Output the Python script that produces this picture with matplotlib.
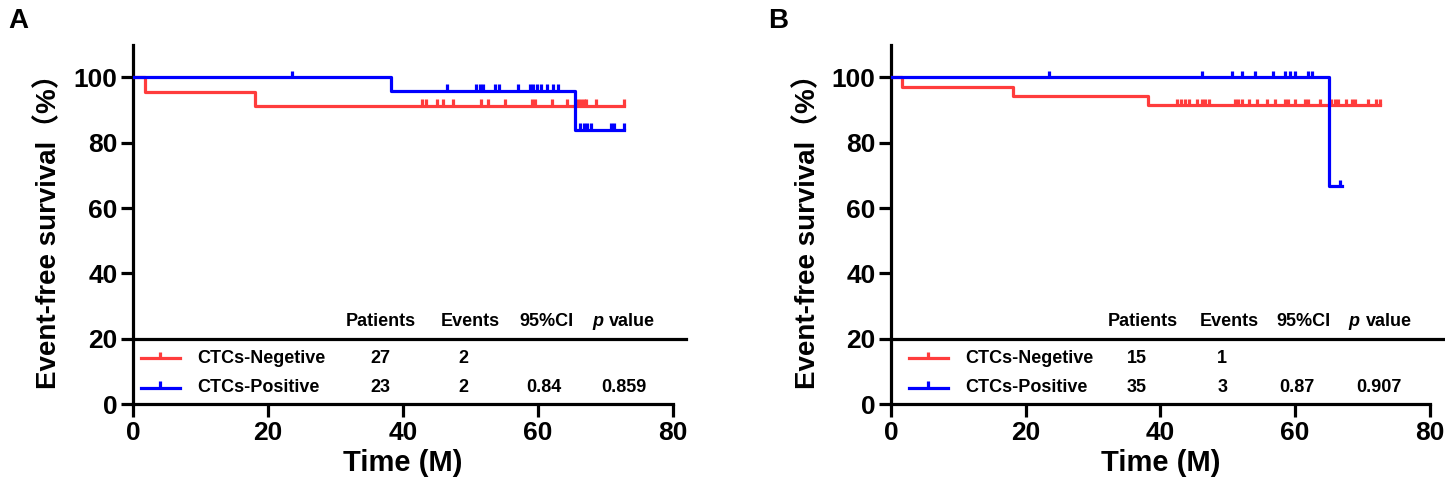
import numpy as np
import matplotlib.pyplot as plt

plt.rcParams['font.family'] = ['Liberation Sans', 'Noto Sans CJK SC']
plt.rcParams['font.weight'] = 'bold'
plt.rcParams['axes.labelweight'] = 'bold'

RED = '#FF3C3C'
BLUE = '#0000FF'

# ---- panel A ----
a_neg_times = [0, 1.8, 18.1, 72.8]
a_neg_surv = [100, 95.5, 91.3, 91.3]
a_neg_cens = [42.8, 43.4, 45.0, 46.0, 47.4, 51.5, 52.6, 55.1, 59.1, 59.5,
              62.1, 64.3, 66.0, 66.4, 66.8, 67.1, 68.6, 72.8]
a_pos_times = [0, 38.2, 65.5, 72.8]
a_pos_surv = [100, 96.0, 84.0, 84.0]
a_pos_cens = [23.6, 46.5, 50.8, 51.4, 51.9, 53.6, 54.3, 57.1, 58.8, 59.3,
              59.9, 60.5, 61.4, 62.3, 62.9, 66.3, 66.8, 67.3, 67.8, 70.8,
              71.3, 72.8]
a_table = [['27', '2', '', ''], ['23', '2', '0.84', '0.859']]

# ---- panel B ----
b_neg_times = [0, 1.7, 18.1, 38.1, 72.6]
b_neg_surv = [100, 97.1, 94.3, 91.5, 91.5]
b_neg_cens = [42.5, 43.0, 43.7, 44.2, 45.4, 46.2, 46.7, 47.2, 51.1, 51.6,
              52.1, 53.1, 54.3, 55.8, 57.0, 58.5, 59.0, 60.0, 61.5, 62.0,
              63.7, 65.4, 65.9, 66.4, 67.6, 68.4, 68.9, 70.8, 72.1, 72.6]
b_pos_times = [0, 65.1, 67.0]
b_pos_surv = [100, 66.7, 66.7]
b_pos_cens = [23.5, 46.2, 50.6, 52.2, 54.0, 56.7, 58.5, 59.2, 60.0, 61.9,
              62.5, 66.7]
b_table = [['15', '1', '', ''], ['35', '3', '0.87', '0.907']]

group_names = ['CTCs-Negetive', 'CTCs-Positive']
x_ticks = [0, 20, 40, 60, 80]
y_ticks = [0, 20, 40, 60, 80, 100]

LW = 2.3
TFS = 13  # table text


def level_at(times, surv, t):
    idx = np.searchsorted(times, t, side='right') - 1
    return surv[idx]


def draw_curve(ax, times, surv, cens, color):
    ax.step(times, surv, where='post', color=color, lw=LW, zorder=3)
    for c in cens:
        lv = level_at(times, surv, c)
        ax.plot([c, c], [lv, lv + 2.0], color=color, lw=LW, zorder=3,
                solid_capstyle='butt')


def draw_panel(ax, neg, pos, table, label_x, cols):
    draw_curve(ax, *neg, RED)
    draw_curve(ax, *pos, BLUE)

    # table
    ax.plot([0, 82], [20, 20], color='black', lw=LW, clip_on=False)
    hy = 25.3
    ax.text(cols[0], hy, 'Patients', ha='center', va='center', fontsize=TFS)
    ax.text(cols[1], hy, 'Events', ha='center', va='center', fontsize=TFS)
    ax.text(cols[2], hy, '95%CI', ha='center', va='center', fontsize=TFS)
    ax.text(68.0, hy, 'p', ha='left', va='center', fontsize=TFS,
            style='italic')
    ax.text(70.5, hy, 'value', ha='left', va='center', fontsize=TFS)
    row_y = [14.0, 5.0]
    for i, (name, color) in enumerate(zip(group_names, [RED, BLUE])):
        y = row_y[i]
        ax.plot([label_x - 8.3, label_x - 2.6], [y, y], color=color, lw=LW)
        mid = label_x - 5.45
        ax.plot([mid, mid], [y, y + 2.0], color=color, lw=LW,
                solid_capstyle='butt')
        ax.text(label_x, y, name, ha='left', va='center', fontsize=TFS)
        for j, val in enumerate(table[i]):
            ax.text(cols[4 + j], y, val, ha='center', va='center',
                    fontsize=TFS)

    ax.set_xlim(0, 80)
    ax.set_ylim(0, 110)
    ax.set_xticks(x_ticks)
    ax.set_yticks(y_ticks)
    for s in ['top', 'right']:
        ax.spines[s].set_visible(False)
    for s in ['left', 'bottom']:
        ax.spines[s].set_linewidth(LW)
    ax.tick_params(direction='out', length=9, width=LW, labelsize=19)
    ax.tick_params(axis='y', pad=2)
    ax.tick_params(axis='x', pad=3)
    ax.set_xlabel('Time (M)', fontsize=21, labelpad=3)
    ax.set_ylabel('Event-free survival（%）', fontsize=20, labelpad=8)


fig = plt.figure(figsize=(14.45, 5), dpi=100)
ax1 = fig.add_axes([0.092, 0.192, 0.3737, 0.7184])
ax2 = fig.add_axes([0.6166, 0.192, 0.3728, 0.7184])

draw_panel(ax1, (a_neg_times, a_neg_surv, a_neg_cens),
           (a_pos_times, a_pos_surv, a_pos_cens), a_table, 9.5,
           [36.7, 50.0, 61.2, 0, 36.6, 48.9, 60.9, 72.7])
draw_panel(ax2, (b_neg_times, b_neg_surv, b_neg_cens),
           (b_pos_times, b_pos_surv, b_pos_cens), b_table, 11.0,
           [37.4, 50.2, 61.2, 0, 36.5, 49.2, 60.3, 72.4])

fig.text(8 / 1445, 1 - 8 / 500, 'A', fontsize=20, ha='left', va='top')
fig.text(768 / 1445, 1 - 8 / 500, 'B', fontsize=20, ha='left', va='top')

fig.savefig('out.png', dpi=100)
